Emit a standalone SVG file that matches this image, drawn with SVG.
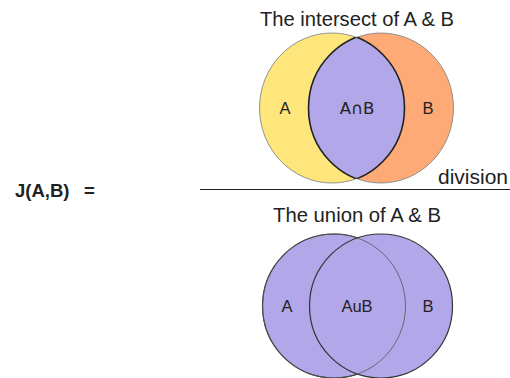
<svg xmlns="http://www.w3.org/2000/svg" width="510" height="378" viewBox="0 0 510 378">
<style>
.t{font-family:"Liberation Sans",Arial,sans-serif;fill:#222}
.lbl{font-size:16.5px;text-anchor:middle}
.ttl{font-size:19.5px}
</style>
<defs>
<clipPath id="clipA"><ellipse cx="332" cy="108" rx="72.5" ry="75"/></clipPath>
<clipPath id="clipB"><ellipse cx="381" cy="108" rx="72.5" ry="75"/></clipPath>
</defs>
<rect width="510" height="378" fill="#fff"/>
<g id="eq">
<text class="t" x="15" y="197" font-size="18.5" font-weight="bold">J(A,B)</text>
<text class="t" x="84" y="197" font-size="18.5" font-weight="bold">=</text>
</g>
<g id="connectors">
<line x1="200" y1="189.5" x2="510" y2="189.5" stroke="#222" stroke-width="1.2"/>
</g>
<g id="division"><text class="t" x="438" y="184" font-size="19.5" textLength="70" lengthAdjust="spacingAndGlyphs">division</text></g>
<g id="intersect">
<text class="t ttl" x="260" y="26" textLength="194" lengthAdjust="spacingAndGlyphs">The intersect of A &amp; B</text>
<ellipse cx="332" cy="108" rx="72.5" ry="75" fill="#FEE57C" stroke="#888" stroke-width="0.9"/>
<ellipse cx="381" cy="108" rx="72.5" ry="75" fill="#FDAA76" stroke="#888" stroke-width="0.9"/>
<ellipse cx="381" cy="108" rx="72.5" ry="75" fill="#B2A7E8" stroke="#222" stroke-width="1.6" clip-path="url(#clipA)"/>
<ellipse cx="332" cy="108" rx="72.5" ry="75" fill="none" stroke="#222" stroke-width="1.6" clip-path="url(#clipB)"/>
<text class="t lbl" x="285" y="114">A</text>
<text class="t lbl" x="357" y="114" style="font-family:'DejaVu Sans','Liberation Sans',sans-serif" font-size="15.5">A∩B</text>
<text class="t lbl" x="428" y="114">B</text>
</g>
<g id="union">
<text class="t ttl" x="273" y="222" textLength="168" lengthAdjust="spacingAndGlyphs">The union of A &amp; B</text>
<ellipse cx="334" cy="306" rx="71.5" ry="72" fill="#B2A7E8" stroke="#333" stroke-width="1.2"/>
<ellipse cx="381" cy="306" rx="71.5" ry="72" fill="#B2A7E8" stroke="#333" stroke-width="1.2"/>
<ellipse cx="334" cy="306" rx="71.5" ry="72" fill="none" stroke="#555" stroke-width="0.8"/>
<text class="t lbl" x="287" y="312">A</text>
<text class="t lbl" x="357" y="312">AuB</text>
<text class="t lbl" x="428" y="312">B</text>
</g>
</svg>
